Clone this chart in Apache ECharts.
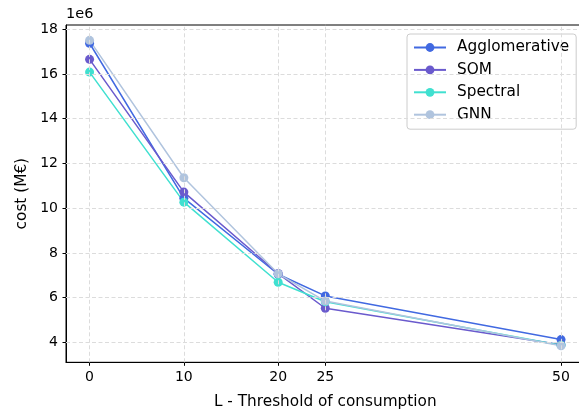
<!DOCTYPE html>
<html><head><meta charset="utf-8">
<script src="https://cdn.jsdelivr.net/npm/echarts@6/dist/echarts.min.js"></script>
<style>html,body{margin:0;padding:0;background:#fff;overflow:hidden}#c{width:590px;height:415px}</style>
</head><body><div id="c"></div>
<script>
const thresholds = [0, 10, 20, 25, 50];
const xTicks = [0, 10, 20, 25, 50];
const yTicks = [4, 6, 8, 10, 12, 14, 16, 18];
const agglomerative = [17.37, 10.45, 7.05, 6.08, 4.13];
const som = [16.65, 10.72, 7.08, 5.53, 3.9];
const spectral = [16.08, 10.27, 6.69, 5.82, 3.88];
const gnn = [17.5, 11.36, 7.07, 5.85, 3.85];
const names = ['Agglomerative', 'SOM', 'Spectral', 'GNN'];
const colors = ['#4169E1', '#6A5ACD', '#40E0D0', '#B0C4DE'];
const seriesValues = [agglomerative, som, spectral, gnn];
const FONT = 'DejaVu Sans';

const chart = echarts.init(document.getElementById('c'), null, {renderer: 'canvas'});
const gridStyle = {color: '#dcdcdc', type: [4, 2.5], width: 1};
const series = [{
  type: 'line', data: [], silent: true, z: 1,
  markLine: {
    silent: true, symbol: 'none', label: {show: false}, animation: false,
    lineStyle: gridStyle, emphasis: {disabled: true},
    data: xTicks.map(v => ({xAxis: v})).concat(yTicks.map(v => ({yAxis: v})))
  }
}];
seriesValues.forEach((vals, i) => {
  series.push({
    name: names[i], type: 'line', z: 3,
    data: thresholds.map((t, j) => [t, vals[j]]),
    symbol: 'circle', symbolSize: 9,
    lineStyle: {color: colors[i], width: 1.5},
    itemStyle: {color: colors[i]},
    animation: false
  });
});
chart.setOption({
  backgroundColor: '#fff',
  textStyle: {fontFamily: FONT},
  grid: {left: 66, top: 25, width: 518.6, height: 337.3, show: true, borderColor: '#000', borderWidth: 1, backgroundColor: 'transparent'},
  xAxis: {
    type: 'value', min: -2.5, max: 52.5,
    axisLine: {show: true, onZero: false, lineStyle: {color: '#000', width: 1}},
    axisTick: {show: true, length: 3.5, customValues: xTicks, lineStyle: {color: '#000'}},
    axisLabel: {customValues: xTicks, fontSize: 14, color: '#000', fontFamily: FONT, margin: 8},
    splitLine: {show: false},
    name: 'L - Threshold of consumption', nameLocation: 'middle', nameGap: 32,
    nameTextStyle: {fontSize: 15.3, color: '#000', fontFamily: FONT}
  },
  yAxis: {
    type: 'value', min: 3.115, max: 18.185,
    axisLine: {show: true, onZero: false, lineStyle: {color: '#000', width: 1}},
    axisTick: {show: true, length: 3.5, customValues: yTicks, lineStyle: {color: '#000'}},
    axisLabel: {customValues: yTicks, fontSize: 14, color: '#000', fontFamily: FONT, margin: 8},
    splitLine: {show: false},
    name: 'cost (M€)', nameLocation: 'middle', nameGap: 36,
    nameTextStyle: {fontSize: 15.3, color: '#000', fontFamily: FONT}
  },
  graphic: [{
    type: 'text', left: 66, top: 7,
    style: {text: '1e6', fontSize: 14.5, fill: '#000', fontFamily: FONT}
  }],
  legend: {
    data: names, orient: 'vertical', left: 407, top: 34,
    itemWidth: 32, itemHeight: 11, itemGap: 7.4,
    padding: [6, 7, 7, 6],
    backgroundColor: 'rgba(255,255,255,0.8)', borderColor: '#cccccc', borderWidth: 1, borderRadius: 3,
    textStyle: {fontSize: 15.3, color: '#000', fontFamily: FONT, padding: [0, 0, 0, 6]}
  },
  series: series
});
</script></body></html>
